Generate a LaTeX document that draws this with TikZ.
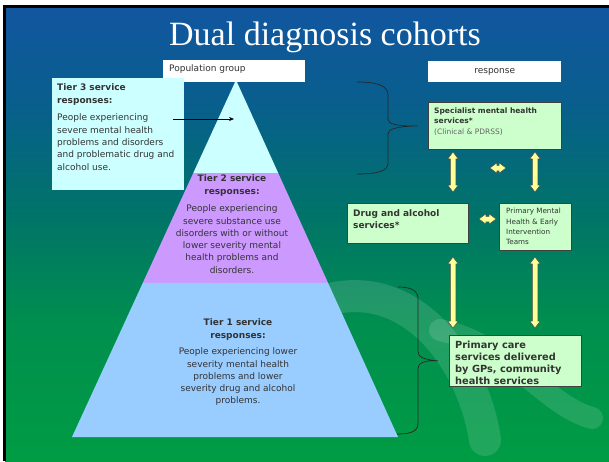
\documentclass[tikz,border=0pt]{standalone}
\usepackage{fontspec}
\setmainfont{DejaVu Sans}
\newfontfamily\titlefont{Liberation Serif}
\usetikzlibrary{positioning, shapes.arrows, arrows.meta, calc}

\definecolor{bggreen}{RGB}{0,156,68}
\definecolor{bgsea}{RGB}{0,143,78}
\definecolor{bgteal}{RGB}{0,116,104}
\definecolor{bgsteel}{RGB}{8,95,140}
\definecolor{bgblue}{RGB}{18,86,160}
\definecolor{tierthree}{RGB}{204,255,255}
\definecolor{tiertwo}{RGB}{204,153,255}
\definecolor{tierone}{RGB}{153,204,255}
\definecolor{svcgreen}{RGB}{204,255,204}
\definecolor{arrowyellow}{RGB}{255,255,153}
\definecolor{textgray}{RGB}{51,51,51}

\pgfdeclareverticalshading{slidebg}{100bp}{%
  color(0bp)=(bggreen); color(25bp)=(bggreen); color(40bp)=(bgsea);
  color(52bp)=(bgteal); color(64bp)=(bgsteel); color(75bp)=(bgblue);
  color(100bp)=(bgblue)}

\begin{document}
\begin{tikzpicture}[%
    x=1pt, y=-1pt,
    every node/.style={%
      font=\fontsize{9}{12.3}\selectfont,
      text=textgray,
      inner sep=0pt
    },
    tierhead/.style={font=\fontsize{9}{12.5}\selectfont\bfseries, align=center},
    tierbody/.style={align=center},
    tagbox/.style={fill=white, anchor=north west},
    svcbox/.style={draw=black!75, fill=svcgreen, line width=0.7pt, anchor=north west},
    dblarrow/.style={%
      double arrow, draw=black!70, fill=arrowyellow, line width=0.5pt,
      inner sep=2.5pt, double arrow head extend=2.5pt, double arrow tip angle=75
    },
    brace/.style={draw=black!85, line width=0.7pt}
  ]

  \useasboundingbox (0,0) rectangle (609,461);

  % Slide background
  \fill[white] (0,0) rectangle (609,461);
  \shade[shading=slidebg] (5,7) rectangle (609,461);
  \draw[black, line width=2.5pt] (4.5,461) -- (4.5,6.5) -- (609,6.5);
  \draw[white, opacity=0.13, line width=32pt, line cap=round]
    (335,298) .. controls (420,282) and (475,370) .. (485,440);
  \draw[white, opacity=0.13, line width=22pt, line cap=round]
    (440,330) .. controls (510,345) and (545,405) .. (592,418);

  \node[font=\titlefont\fontsize{34}{34}\selectfont, text=white, anchor=base]
    (title) at (325,45.5) {Dual diagnosis cohorts};

  % Pyramid
  \coordinate (apex) at (236,80);
  \coordinate (bl) at (72,437);
  \coordinate (br) at (398,437);
  \coordinate (t3l) at ($(apex)!0.2605!(bl)$);
  \coordinate (t3r) at ($(apex)!0.2605!(br)$);
  \coordinate (t2l) at ($(apex)!0.5686!(bl)$);
  \coordinate (t2r) at ($(apex)!0.5686!(br)$);
  \fill[tierthree] (apex) -- (t3r) -- (t3l) -- cycle;
  \fill[tiertwo] (t3l) -- (t3r) -- (t2r) -- (t2l) -- cycle;
  \fill[tierone] (t2l) -- (t2r) -- (br) -- (bl) -- cycle;

  \node[tagbox, minimum width=142pt, minimum height=22pt] (popbox) at (163,60) {};
  \node[below right=4.5pt and 6pt of popbox.north west] (poplabel) {Population group};

  % Tier 3
  \node[fill=tierthree, anchor=north west, minimum width=132pt, minimum height=112pt]
    (t3box) at (52,78) {};
  \node[tierhead, align=left, below right=5.7pt and 5pt of t3box.north west]
    (t3head)
    {Tier 3 service\\responses:};
  \node[tierbody, align=left, below right=8.6pt and 0pt of t3head.south west]
    (t3body)
    {People experiencing\\severe mental health\\problems and disorders\\and problematic drug and\\alcohol use.};
  \coordinate (t3from) at (173,119);
  \coordinate (t3to) at (234,119);
  \draw[black, line width=0.6pt, -{Stealth[length=5pt,width=4pt]}] (t3from) -- (t3to);

  % Tier 2
  \node[tierhead, anchor=north] (t2head) at (232,174.7) {Tier 2 service\\responses:};
  \node[tierbody, below=8.4pt of t2head] (t2body)
    {People experiencing\\severe substance use\\disorders with or without\\lower severity mental\\health problems and\\disorders.};

  % Tier 1
  \node[tierhead, anchor=north] (t1head) at (238,318.7) {Tier 1 service\\responses:};
  \node[tierbody, below=7.4pt of t1head] (t1body)
    {People experiencing lower\\severity mental health\\problems and lower\\severity drug and alcohol\\problems.};

  % Service responses
  \node[tagbox, minimum width=133pt, minimum height=21pt] (respbox) at (428,61) {response};

  \node[svcbox, minimum width=133pt, minimum height=47pt] (spec) at (428,102) {};
  \node[font=\fontsize{7.5}{10.5}\selectfont, align=left,
        below right=5.2pt and 6pt of spec.north west]
    (spectext)
    {\textbf{Specialist mental health}\\\textbf{services*}\\\textcolor{black!60}{(Clinical \& PDRSS)}};

  \node[svcbox, minimum width=121pt, minimum height=40pt] (drug) at (347,203) {};
  \node[font=\fontsize{9}{12}\selectfont\bfseries, align=left,
        below right=6.7pt and 6pt of drug.north west]
    (drugtext)
    {Drug and alcohol\\services*};

  \node[svcbox, minimum width=72pt, minimum height=47pt] (pmh) at (499,203) {};
  \node[font=\fontsize{7.2}{10.3}\selectfont, align=left,
        below right=5.3pt and 7pt of pmh.north west]
    (pmhtext)
    {Primary Mental\\Health \& Early\\Intervention\\Teams};

  \node[svcbox, minimum width=132pt, minimum height=51pt] (care) at (449,335) {};
  \node[font=\fontsize{9.8}{12}\selectfont\bfseries, align=left,
        below right=6.3pt and 6pt of care.north west]
    (caretext)
    {Primary care\\services delivered\\by GPs, community\\health services};

  % Block arrows
  \node[dblarrow, rotate=90, minimum height=40pt] (specdrug) at (453,172) {};
  \node[dblarrow, rotate=90, minimum height=40pt] (specpmh) at (535,172) {};
  \node[dblarrow, minimum height=16pt] (specside) at (498,168) {};
  \node[dblarrow, minimum height=17pt] (drugpmh) at (487.5,219) {};
  \node[dblarrow, rotate=90, minimum height=71pt] (drugcare) at (453,292.5) {};
  \node[dblarrow, rotate=90, minimum height=71pt] (pmhcare) at (535,292.5) {};

  % Braces
  \coordinate (tiptop) at ([xshift=-10pt]spec.west);
  \coordinate (tipbot) at ([xshift=-11pt]care.west);
  \draw[brace] (357,82) .. controls (378,82) and (388,86) .. (388,95)
    -- (388,119) .. controls (388,124) and (396,126.5) .. (tiptop)
    .. controls (396,126.5) and (388,129) .. (388,134)
    -- (388,163) .. controls (388,171) and (378,174) .. (357,174);
  \draw[brace] (398,287) .. controls (412,287) and (418,291) .. (418,299)
    -- (418,352) .. controls (418,357) and (425,360) .. (tipbot)
    .. controls (425,360) and (418,363) .. (418,368)
    -- (418,423) .. controls (418,431) and (412,434) .. (397,434);

\end{tikzpicture}
\end{document}
